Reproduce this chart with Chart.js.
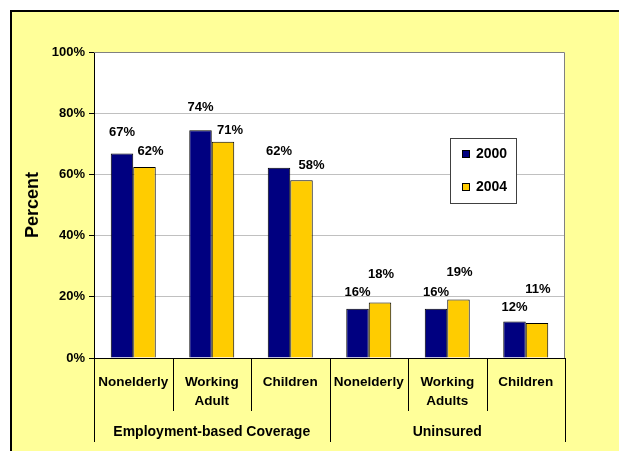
<!DOCTYPE html>
<html>
<head>
<meta charset="utf-8">
<script src="https://cdn.jsdelivr.net/npm/chart.js@4/dist/chart.umd.min.js"></script>
<style>
  html, body { margin: 0; padding: 0; background: #ffffff; }
  #wrap { width: 619px; height: 451px; position: relative; }
</style>
</head>
<body>
<div id="wrap"><canvas id="chart" width="619" height="451"></canvas></div>
<script>
(function () {
    'use strict';

    // categories (inner level) and their groups (outer level)
    var categories = [['Nonelderly'], ['Working', 'Adult'], ['Children'], ['Nonelderly'], ['Working', 'Adults'], ['Children']];
    var groups = ['Employment-based Coverage', 'Uninsured'];
    var groupSizes = [3, 3];

    var seriesNames = ['2000', '2004'];
    var values2000 = [66.8, 74.4, 62.2, 16.1, 16.1, 11.9];
    var values2004 = [62.4, 70.7, 58.1, 18.1, 19.1, 11.4];

    var yTicks = [0, 20, 40, 60, 80, 100];

    // hand placed data label offsets (dx, lift above bar top), as in the original
    var labelNudge = [
        [[0, 21], [0, 23], [0, 16], [0, 16], [0, 16], [0, 14]],
        [[6, 16], [7, 11], [10, 15], [1, 28], [1, 27], [1, 34]]
    ];

    var FONT = '"Liberation Sans", Arial, sans-serif';
    var BG = '#ffff99';

    var frame = {
        id: 'frame',
        beforeDraw: function (chart) {
            var ctx = chart.ctx;
            var a = chart.chartArea;
            ctx.save();
            ctx.fillStyle = '#ffffff';
            ctx.fillRect(0, 0, chart.width, chart.height);
            ctx.fillStyle = BG;
            ctx.fillRect(11, 11, chart.width - 11, chart.height - 11);
            ctx.strokeStyle = '#000000';
            ctx.lineWidth = 2;
            ctx.beginPath();
            ctx.moveTo(11, chart.height);
            ctx.lineTo(11, 11);
            ctx.lineTo(chart.width, 11);
            ctx.stroke();
            ctx.fillStyle = '#ffffff';
            ctx.fillRect(a.left, a.top, a.right - a.left, a.bottom - a.top);
            ctx.restore();
        },
        afterDraw: function (chart) {
            var ctx = chart.ctx;
            var a = chart.chartArea;
            var x = chart.scales.x;
            ctx.save();
            // plot border top / right
            ctx.strokeStyle = '#808080';
            ctx.lineWidth = 1;
            ctx.beginPath();
            ctx.moveTo(a.left, a.top + 0.5);
            ctx.lineTo(a.right - 0.5, a.top + 0.5);
            ctx.lineTo(a.right - 0.5, a.bottom);
            ctx.stroke();

            // multi-level category axis
            var n = categories.length;
            var step = (a.right - a.left) / n;
            ctx.strokeStyle = '#000000';
            ctx.beginPath();
            var idx = 0;
            var bounds = [0];
            for (var g = 0; g < groupSizes.length; g++) {
                idx += groupSizes[g];
                bounds.push(idx);
            }
            for (var i = 0; i <= n; i++) {
                var px = Math.round(x.getPixelForValue(i) - step / 2) + 0.5;
                var isGroup = bounds.indexOf(i) >= 0;
                ctx.moveTo(px, a.bottom);
                ctx.lineTo(px, isGroup ? a.bottom + 84 : a.bottom + 53);
            }
            ctx.stroke();

            ctx.fillStyle = '#000000';
            ctx.font = 'bold 13.5px ' + FONT;
            ctx.textAlign = 'center';
            ctx.textBaseline = 'middle';
            for (var c = 0; c < n; c++) {
                var cx = x.getPixelForValue(c);
                for (var l = 0; l < categories[c].length; l++) {
                    ctx.fillText(categories[c][l], cx, a.bottom + 24 + l * 19);
                }
            }
            ctx.font = 'bold 14px ' + FONT;
            for (var k = 0; k < groups.length; k++) {
                var gx = (x.getPixelForValue(bounds[k]) + x.getPixelForValue(bounds[k + 1] - 1)) / 2;
                ctx.fillText(groups[k], gx, a.bottom + 74);
            }

            // data labels
            ctx.font = 'bold 13px ' + FONT;
            for (var d = 0; d < chart.data.datasets.length; d++) {
                var meta = chart.getDatasetMeta(d);
                var data = chart.data.datasets[d].data;
                for (var j = 0; j < meta.data.length; j++) {
                    var bar = meta.data[j];
                    var nudge = labelNudge[d][j];
                    ctx.fillText(Math.round(data[j]) + '%', bar.x + nudge[0], bar.y - nudge[1]);
                }
            }

            // legend
            var lx = 450, ly = 138, lw = 66, lh = 65;
            ctx.fillStyle = '#ffffff';
            ctx.fillRect(lx, ly, lw, lh);
            ctx.strokeStyle = '#404040';
            ctx.strokeRect(lx + 0.5, ly + 0.5, lw, lh);
            ctx.textAlign = 'left';
            ctx.font = 'bold 14px ' + FONT;
            for (var s = 0; s < chart.data.datasets.length; s++) {
                var ds = chart.data.datasets[s];
                var ey = ly + 16 + s * 33;
                ctx.fillStyle = ds.backgroundColor;
                ctx.fillRect(lx + 12, ey - 4, 8, 8);
                ctx.strokeStyle = '#000000';
                ctx.strokeRect(lx + 12.5, ey - 3.5, 7, 7);
                ctx.fillStyle = '#000000';
                ctx.fillText(ds.label, lx + 26, ey);
            }
            ctx.restore();
        }
    };

    new Chart(document.getElementById('chart'), {
        type: 'bar',
        data: {
            labels: categories.map(function (c) { return c.join(' '); }),
            datasets: [{
                label: seriesNames[0],
                data: values2000,
                backgroundColor: '#000080',
                borderColor: '#000000',
                borderWidth: 1,
                borderSkipped: 'bottom',
                categoryPercentage: 0.573,
                barPercentage: 1
            }, {
                label: seriesNames[1],
                data: values2004,
                backgroundColor: '#ffcc00',
                borderColor: '#000000',
                borderWidth: 1,
                borderSkipped: 'bottom',
                categoryPercentage: 0.573,
                barPercentage: 1
            }]
        },
        options: {
            responsive: false,
            animation: false,
            layout: { padding: { top: 52, right: 54, left: 0, bottom: 0 } },
            plugins: {
                legend: { display: false },
                tooltip: { enabled: false }
            },
            scales: {
                x: {
                    grid: { display: false },
                    ticks: { display: false },
                    border: { color: '#000000', width: 1 },
                    afterFit: function (scale) { scale.height = 93; }
                },
                y: {
                    min: 0,
                    max: 100,
                    afterBuildTicks: function (scale) {
                        scale.ticks = yTicks.map(function (v) { return { value: v }; });
                    },
                    afterFit: function (scale) { scale.width = 94; },
                    ticks: {
                        color: '#000000',
                        padding: 4,
                        font: { family: FONT, size: 13, weight: 'bold' },
                        callback: function (v) { return v + '%'; }
                    },
                    grid: {
                        tickLength: 5,
                        tickColor: '#000000',
                        color: function (ctx) {
                            var v = ctx.tick ? ctx.tick.value : 0;
                            return (v === 0 || v === 100) ? 'rgba(0,0,0,0)' : '#c0c0c0';
                        }
                    },
                    border: { color: '#000000', width: 1 },
                    title: {
                        display: true,
                        text: 'Percent',
                        color: '#000000',
                        font: { family: FONT, size: 18, weight: 'bold' },
                        padding: { top: 22, bottom: 0 }
                    }
                }
            }
        },
        plugins: [frame]
    });
})();
</script>
</body>
</html>
